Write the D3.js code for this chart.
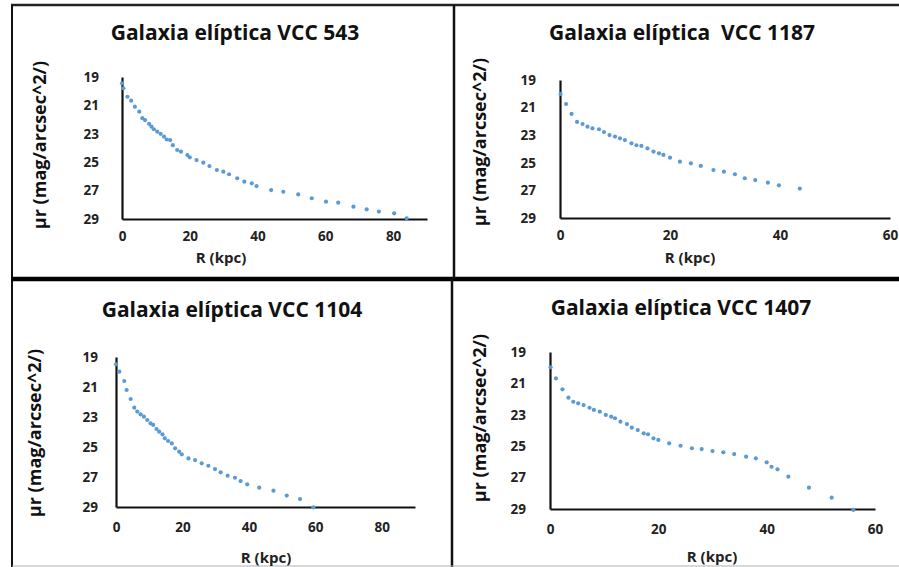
<!DOCTYPE html>
<html>
<head>
<meta charset="utf-8">
<script src="https://cdn.jsdelivr.net/npm/d3@7"></script>
<style>
  body { margin: 0; background: #fff; }
  svg { display: block; }
</style>
</head>
<body>
<svg width="899" height="567"></svg>
<script>
// DATA

const Y_TICKS = [19, 21, 23, 25, 27, 29];
const X_TICKS_90 = [0, 20, 40, 60, 80];
const X_TICKS_60 = [0, 20, 40, 60];

const TITLES = [
    'Galaxia elíptica VCC 543',
    'Galaxia elíptica  VCC 1187',
    'Galaxia elíptica VCC 1104',
    'Galaxia elíptica VCC 1407'
];

const r543 = [0, 0.4, 1.6, 2.7, 3.8, 5.1, 6.0, 6.8, 8.0, 8.7, 9.4, 10.4, 11.4, 12.4, 13.2, 14.2, 15.0, 16.3, 17.4, 19.3, 20.0, 22.0, 24.0, 25.8, 28.0, 29.9, 31.6, 34.0, 36.1, 38.3, 39.7, 44.0, 47.6, 52.0, 56.0, 60.2, 63.8, 68.3, 72.2, 75.8, 80.3, 84.0];
const mu543 = [19.44, 19.8, 20.39, 20.67, 21.09, 21.44, 21.9, 22.03, 22.3, 22.5, 22.68, 22.85, 23.0, 23.2, 23.4, 23.44, 23.8, 24.14, 24.26, 24.5, 24.66, 24.85, 25.03, 25.27, 25.55, 25.67, 25.85, 26.13, 26.37, 26.49, 26.68, 26.96, 27.08, 27.27, 27.54, 27.78, 27.85, 28.13, 28.32, 28.48, 28.6, 28.95];

const r1187 = [0.1, 1.1, 2.1, 3.1, 4.1, 5.0, 5.9, 7.1, 8.0, 9.0, 10.0, 10.9, 11.8, 13.0, 13.9, 14.8, 15.9, 17.0, 18.0, 18.8, 20.0, 21.8, 23.8, 25.6, 27.9, 29.8, 31.8, 33.6, 35.5, 37.8, 39.8, 43.6];
const mu1187 = [20.01, 20.74, 21.46, 22.04, 22.19, 22.38, 22.5, 22.57, 22.77, 22.99, 23.1, 23.23, 23.35, 23.59, 23.73, 23.78, 23.95, 24.19, 24.31, 24.43, 24.63, 24.92, 25.04, 25.23, 25.52, 25.64, 25.83, 26.12, 26.25, 26.44, 26.63, 26.87];

const r1104 = [0, 1.0, 2.5, 3.2, 4.4, 5.5, 6.4, 7.4, 8.4, 9.4, 10.4, 11.2, 12.2, 13.0, 14.0, 14.7, 15.7, 16.8, 17.8, 19.0, 19.8, 21.8, 23.8, 25.8, 27.8, 29.8, 31.5, 33.6, 35.8, 37.5, 39.5, 43.1, 47.4, 51.4, 55.4, 59.4];
const mu1104 = [19.49, 19.98, 20.6, 21.2, 21.8, 22.38, 22.64, 22.82, 22.98, 23.2, 23.42, 23.53, 23.8, 23.98, 24.16, 24.42, 24.6, 24.76, 25.09, 25.31, 25.49, 25.76, 25.87, 26.09, 26.25, 26.47, 26.69, 26.91, 27.05, 27.27, 27.49, 27.71, 27.91, 28.24, 28.47, 29.02];

const r1407 = [0.1, 1.1, 2.3, 3.4, 4.3, 5.2, 6.2, 7.3, 8.1, 9.2, 10.3, 11.3, 12.0, 13.0, 14.2, 15.1, 16.2, 17.3, 18.1, 19.1, 20.0, 22.0, 24.1, 26.2, 28.0, 30.0, 32.0, 34.0, 36.2, 38.0, 40.0, 40.9, 42.0, 44.0, 47.8, 52.0, 56.0];
const mu1407 = [19.97, 20.68, 21.38, 21.91, 22.17, 22.27, 22.38, 22.55, 22.69, 22.8, 23.01, 23.12, 23.22, 23.44, 23.59, 23.82, 23.97, 24.18, 24.24, 24.5, 24.6, 24.82, 24.97, 25.13, 25.18, 25.31, 25.39, 25.5, 25.67, 25.77, 26.03, 26.31, 26.47, 26.94, 27.64, 28.28, 29.06];

// LAYOUT

const FONT = '"Open Sans", "DejaVu Sans", sans-serif';
const POINT_COLOR = '#5b9bd5';
const LINE_COLOR = '#111';

const panels = [
    { title: TITLES[0], r: r543, mu: mu543, xMax: 90, xTicks: X_TICKS_90,
      x: [122, 427], y: [77, 219], titleAt: [235, 33], xLabelAt: [221, 258], yLabelAt: [40, 145],
      yPad: 23, xPad: 12 },
    { title: TITLES[1], r: r1187, mu: mu1187, xMax: 60, xTicks: X_TICKS_60,
      x: [560, 890], y: [80, 218], titleAt: [682, 33], xLabelAt: [690, 258], yLabelAt: [480, 142],
      yPad: 24, xPad: 12 },
    { title: TITLES[2], r: r1104, mu: mu1104, xMax: 90, xTicks: X_TICKS_90,
      x: [116, 415], y: [357, 507], titleAt: [232, 310], xLabelAt: [266, 558], yLabelAt: [35, 433],
      yPad: 18, xPad: 15 },
    { title: TITLES[3], r: r1407, mu: mu1407, xMax: 60, xTicks: X_TICKS_60,
      x: [550, 875], y: [352, 509], titleAt: [681, 308], xLabelAt: [712, 557], yLabelAt: [480, 418],
      yPad: 24, xPad: 15 }
];

const svg = d3.select('svg');

// frame lines around the four charts
const frame = svg.append('g');
const frameLines = [
    { x1: 11, y1: 5, x2: 899, y2: 5, w: 2.5, c: '#222' },
    { x1: 12, y1: 5, x2: 12, y2: 567, w: 2, c: '#111' },
    { x1: 11, y1: 279, x2: 899, y2: 279, w: 4.5, c: '#000' },
    { x1: 454, y1: 5, x2: 454, y2: 279, w: 2.5, c: '#111' },
    { x1: 452, y1: 279, x2: 452, y2: 567, w: 2.5, c: '#111' },
    { x1: 12, y1: 566, x2: 899, y2: 566, w: 1, c: '#b0b0b0' }
];
frame.selectAll('line')
    .data(frameLines)
    .enter()
    .append('line')
    .attr('x1', d => d.x1).attr('y1', d => d.y1)
    .attr('x2', d => d.x2).attr('y2', d => d.y2)
    .style('stroke', d => d.c)
    .style('stroke-width', d => d.w);

function drawPanel(p) {
    const g = svg.append('g');

    const xScale = d3.scaleLinear().domain([0, p.xMax]).range(p.x);
    const yScale = d3.scaleLinear().domain([19, 29]).range(p.y);

    // y axis
    const yAxis = g.append('g')
        .attr('transform', `translate(${p.x[0]},0)`)
        .call(d3.axisLeft(yScale).tickValues(Y_TICKS).tickSize(0).tickPadding(p.yPad));

    // x axis
    const xAxis = g.append('g')
        .attr('transform', `translate(0,${p.y[1]})`)
        .call(d3.axisBottom(xScale).tickValues(p.xTicks).tickSize(0).tickPadding(p.xPad));

    [yAxis, xAxis].forEach(ax => {
        ax.select('.domain').style('stroke', LINE_COLOR).style('stroke-width', 2.2);
        ax.selectAll('text')
            .style('font-family', FONT)
            .style('font-size', '13.5px')
            .style('font-weight', '700')
            .style('fill', '#222');
    });

    // points
    const pts = p.r.map((r, i) => ({ r: r, mu: p.mu[i] }));
    g.selectAll('.pt')
        .data(pts)
        .enter()
        .append('circle')
        .classed('pt', true)
        .attr('cx', d => xScale(d.r))
        .attr('cy', d => yScale(d.mu))
        .attr('r', 2.1)
        .style('fill', POINT_COLOR);

    // title
    g.append('text')
        .text(p.title)
        .attr('x', p.titleAt[0])
        .attr('y', p.titleAt[1])
        .attr('dy', '0.35em')
        .style('font-family', FONT)
        .style('font-size', '21px')
        .style('font-weight', '700')
        .style('fill', '#111')
        .style('text-anchor', 'middle')
        .style('white-space', 'pre');

    // x label
    g.append('text')
        .text('R (kpc)')
        .attr('x', p.xLabelAt[0])
        .attr('y', p.xLabelAt[1])
        .attr('dy', '0.35em')
        .style('font-family', FONT)
        .style('font-size', '15px')
        .style('font-weight', '700')
        .style('fill', '#222')
        .style('text-anchor', 'middle');

    // y label
    g.append('text')
        .text('µr (mag/arcsec^2/)')
        .attr('transform', `translate(${p.yLabelAt[0]},${p.yLabelAt[1]}) rotate(-90)`)
        .attr('dy', '0.35em')
        .style('font-family', FONT)
        .style('font-size', '18px')
        .style('font-weight', '700')
        .style('fill', '#111')
        .style('text-anchor', 'middle');
}

panels.forEach(drawPanel);
</script>
</body>
</html>
